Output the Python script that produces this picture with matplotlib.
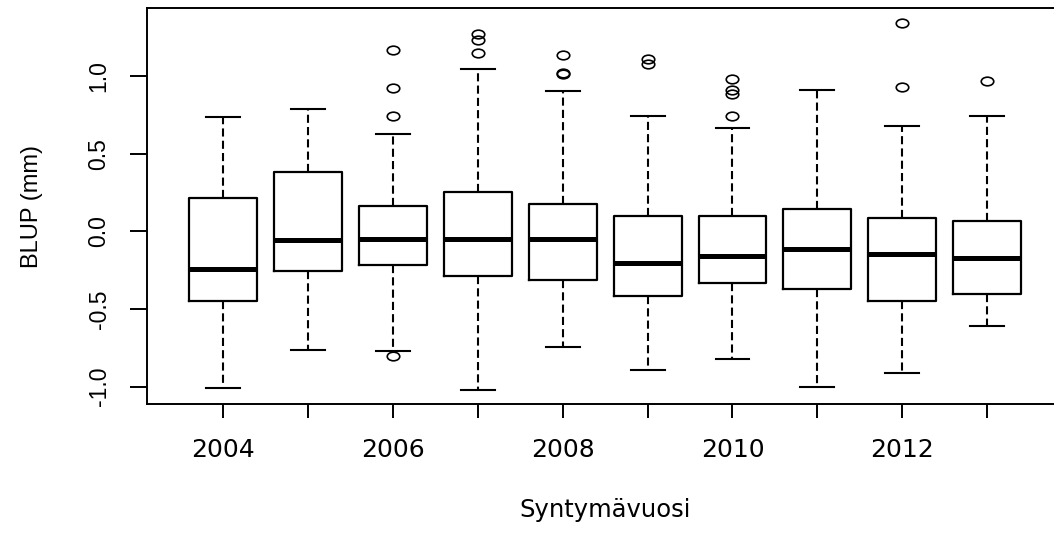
import numpy as np
import matplotlib.pyplot as plt
from matplotlib.path import Path
from matplotlib.transforms import Affine2D

# Values
years = [2004, 2005, 2006, 2007, 2008, 2009, 2010, 2011, 2012, 2013]
q1 = [-0.451, -0.253, -0.216, -0.286, -0.311, -0.419, -0.333, -0.371, -0.451, -0.402]
med = [-0.242, -0.057, -0.048, -0.048, -0.048, -0.206, -0.156, -0.115, -0.147, -0.173]
q3 = [0.216, 0.382, 0.167, 0.255, 0.178, 0.098, 0.098, 0.145, 0.087, 0.070]
whislo = [-1.009, -0.763, -0.772, -1.019, -0.746, -0.890, -0.824, -1.000, -0.910, -0.606]
whishi = [0.735, 0.787, 0.628, 1.048, 0.903, 0.744, 0.669, 0.914, 0.677, 0.744]
fliers = [
    [],
    [],
    [1.168, 0.925, 0.746, -0.802],
    [1.274, 1.233, 1.151],
    [1.140, 1.020, 1.012],
    [1.110, 1.082],
    [0.983, 0.914, 0.886, 0.746],
    [],
    [1.345, 0.933],
    [0.972],
]
shown_labels = ['2004', '', '2006', '', '2008', '', '2010', '', '2012', '']

stats = []
for i in range(len(years)):
    stats.append(dict(q1=q1[i], med=med[i], q3=q3[i], whislo=whislo[i],
                      whishi=whishi[i], fliers=np.array(fliers[i]), label=str(years[i])))

plt.rcParams['font.family'] = ['Liberation Sans', 'DejaVu Sans']

fig = plt.figure(figsize=(10.54, 5.38), dpi=100)
ax = fig.add_axes([0.1392, 0.2485, 0.8699, 0.7366])

# slightly wide open circle, like the stretched original
ellipse = Path.unit_circle().transformed(Affine2D().scale(1.45, 1.0))

pos = np.arange(1, len(years) + 1)
ax.bxp(stats, positions=pos, widths=0.8, capwidths=0.4, showfliers=True,
       boxprops=dict(color='black', linewidth=1.6),
       medianprops=dict(color='black', linewidth=3.6, solid_capstyle='butt'),
       whiskerprops=dict(color='black', linewidth=1.5, linestyle=(0, (3.9, 2.0))),
       capprops=dict(color='black', linewidth=1.5),
       flierprops=dict(marker=ellipse, markersize=9, markerfacecolor='none',
                       markeredgecolor='black', markeredgewidth=1.2, linestyle='none'))

allv = whislo + whishi + [v for f in fliers for v in f]
lo, hi = min(allv), max(allv)
r = hi - lo
ax.set_ylim(lo - 0.04 * r, hi + 0.04 * r)
ax.set_xlim(0.1, len(years) + 0.9)

ax.set_xticks(pos)
ax.set_xticklabels(shown_labels, family='DejaVu Sans', fontsize=18)
ax.set_yticks([-1.0, -0.5, 0.0, 0.5, 1.0])
ax.set_yticklabels(['-1.0', '-0.5', '0.0', '0.5', '1.0'], rotation=90, va='center',
                   fontsize=16.5)
ax.tick_params(axis='x', length=10, width=1.4, pad=14)
ax.tick_params(axis='y', length=12, width=1.4, pad=14)

ax.set_xlabel('Syntymävuosi', family='DejaVu Sans', fontsize=17.5, labelpad=26.5)
ax.set_ylabel('BLUP (mm)', fontsize=17, labelpad=32)

for s in ax.spines.values():
    s.set_linewidth(1.4)

fig.savefig('out.png', dpi=100)
